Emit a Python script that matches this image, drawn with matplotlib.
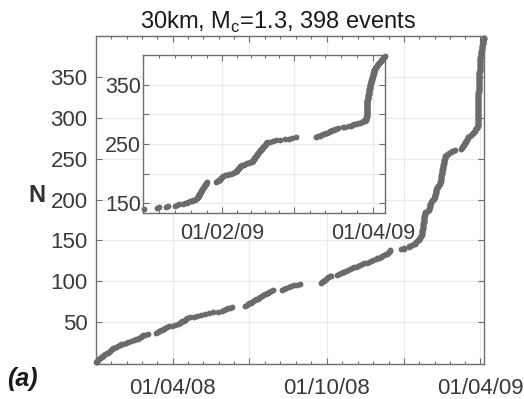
import matplotlib
matplotlib.use("Agg")
import matplotlib.pyplot as plt
import matplotlib.dates as mdates
import numpy as np
from datetime import datetime

plt.rcParams['font.family'] = ['Liberation Sans', 'DejaVu Sans']
plt.rcParams['mathtext.fontset'] = 'custom'
plt.rcParams['mathtext.rm'] = 'Liberation Sans'

# Event times, in days since 01/01/2008
events_2008 = [
    0.2, 0.8, 1.5, 2.4, 3.5, 4.8,
    6.0, 7.3, 8.5, 9.8, 11.2, 12.6,
    14.0, 15.3, 16.5, 17.8, 19.0, 20.4, 21.8,
    23.8, 25.9, 28.0, 30.1, 32.0,
    35.2, 38.5, 41.8, 45.0, 48.0,
    49.7, 51.3, 53.0, 54.6, 56.3, 58.0,
    61.5,
    71.5, 73.2, 75.0, 76.8, 78.5, 80.3, 82.1, 84.0,
    87.2, 90.4, 93.6, 96.8, 100.0,
    101.3, 102.7, 104.0, 105.4, 106.7, 108.0,
    112.0, 116.0, 120.0,
    124.5, 129.2, 134.0, 139.0,
    144.5, 150.0,
    152.2, 154.4, 156.6, 158.8, 161.0,
    177.5, 179.0,
    180.6, 182.2, 183.8, 185.4, 187.0, 188.6, 190.2,
    191.9, 193.6, 195.3, 197.0, 198.7, 200.4, 202.1,
    204.0, 206.0, 208.0, 210.0,
    221.0, 223.5, 226.0, 229.0, 232.0, 235.0, 238.5, 242.0,
    267.0, 268.2, 269.4, 270.6, 271.8, 273.0, 274.2, 275.4,
    277.5, 279.5,
    286.0, 288.3, 290.5, 292.8, 295.0, 297.3, 299.5, 301.8, 304.0,
    306.4, 308.8, 311.2, 313.6, 316.0,
    318.7, 321.4, 324.1, 326.8, 329.5, 332.2,
    334.0, 336.0, 338.0, 340.0, 342.0, 344.0, 345.8, 347.2, 348.2, 348.8, 349.3,
    362.0, 365.5,
]

events_2009 = [
    366.3,
    371.5, 372.2,
    375.0, 375.5,
    378.5, 379.2, 379.9,
    381.5, 382.2,
    383.0, 383.6, 384.2,
    385.0, 385.6, 386.2, 386.8,
    387.0, 387.1, 387.3, 387.4, 387.6, 387.7, 387.8, 388.0, 388.1, 388.3,
    388.4, 388.5, 388.7, 388.8, 389.0, 389.1, 389.2, 389.4, 389.5, 389.7,
    389.8, 389.9, 390.1, 390.2, 390.4, 390.5, 390.6, 390.8,
    394.7,
    395.0, 395.3, 395.6, 395.9, 396.2, 396.4, 396.6, 396.8, 397.0, 397.3,
    398.0, 398.8, 399.6, 400.4, 401.2,
    401.8, 402.1, 402.4, 402.6, 402.8, 403.0, 403.2, 403.4, 403.6, 403.8, 404.0, 404.3,
    404.8, 405.4, 406.0, 406.7, 407.4, 408.0, 408.5,
    408.8, 409.0, 409.2, 409.3, 409.5, 409.6, 409.8, 409.9,
    410.1, 410.2, 410.4, 410.5, 410.7, 410.8,
    411.0, 411.2, 411.4, 411.6, 411.8,
    412.0, 412.2, 412.4, 412.6, 412.8,
    413.0, 413.2, 413.4, 413.6, 413.8,
    414.0, 414.2, 414.4, 414.7,
    415.5, 416.8, 418.0, 419.8, 421.5, 423.0, 424.5, 426.0,
    433.9,
    434.6, 435.2, 435.8, 436.4, 437.0, 437.6, 438.2,
    438.7, 439.2, 439.7, 440.2, 440.7, 441.2, 441.7, 442.2,
    444.3, 445.3,
    446.5, 447.3, 448.0, 448.8, 449.5, 450.2, 451.0, 451.7, 452.3,
    452.9, 453.4,
    453.50, 453.51, 453.52, 453.53, 453.54, 453.55, 453.56, 453.57, 453.58, 453.59,
    453.60, 453.61, 453.62, 453.63, 453.64, 453.65, 453.66, 453.67, 453.68, 453.69,
    453.70, 453.71, 453.72, 453.73, 453.74, 453.75, 453.76, 453.77, 453.78, 453.79,
    453.82, 453.86, 453.90, 453.94, 453.98, 454.02, 454.06, 454.10, 454.14, 454.18,
    454.22, 454.26, 454.30, 454.34, 454.38, 454.42, 454.46, 454.50, 454.54, 454.58,
    454.62, 454.66, 454.70, 454.74, 454.78, 454.82, 454.86, 454.90, 454.94,
    455.00, 455.07, 455.13, 455.20, 455.27, 455.33, 455.40, 455.47, 455.53, 455.60,
    455.67, 455.73, 455.80, 455.87, 455.93, 456.00, 456.07, 456.13, 456.20, 456.27,
    456.33, 456.40, 456.47, 456.53, 456.60, 456.67, 456.73, 456.80,
    457.0, 457.2, 457.35, 457.5, 457.7, 457.85, 458.0, 458.15, 458.3, 458.5, 458.7,
    458.9, 459.1, 459.3, 459.5, 459.7, 459.9, 460.1, 460.3, 460.5, 460.7,
]

title_text = "30km, M$_{\\mathrm{c}}$=1.3, 398 events"
main_xticklabels = {"2008-04-01": "01/04/08", "2008-07-01": "", "2008-10-01": "01/10/08",
                    "2009-01-01": "", "2009-04-01": "01/04/09"}
inset_xticklabels = {"2009-01-01": "", "2009-02-01": "01/02/09", "2009-03-01": "", "2009-04-01": "01/04/09"}
main_yticks = [50, 100, 150, 200, 250, 300, 350]
inset_yticks = [150, 200, 250, 300, 350]
inset_ylabels = ["150", "", "250", "", "350"]

base = mdates.date2num(datetime(2008, 1, 1))
days = np.array(events_2008 + events_2009)
t = base + days
N = np.arange(1, len(days) + 1)

pt_color = '#6b6b6b'
spine_color = '#6e6e6e'
lab_color = '#3a3a3a'
grid_color = '#ebebeb'

fig = plt.figure(figsize=(5.24, 3.99), dpi=100)

def style(ax, major_dates, labels_map, yticks, ylabels, x0, labelsize):
    md = [mdates.date2num(datetime.strptime(d, "%Y-%m-%d")) for d in major_dates]
    ax.set_xticks(md)
    ax.set_xticklabels([labels_map[d] for d in major_dates])
    allmaj = [x0] + md if x0 < md[0] else md
    minors = []
    for a, b in zip(allmaj[:-1], allmaj[1:]):
        for k in range(1, 5):
            minors.append(a + (b - a) * k / 5)
    ax.set_xticks(minors, minor=True)
    ax.set_yticks(yticks)
    ax.set_yticklabels(ylabels)
    ax.grid(True, which='major', color=grid_color, linewidth=0.9)
    ax.set_axisbelow(True)
    for s in ax.spines.values():
        s.set_color(spine_color)
        s.set_linewidth(1.0)
    ax.tick_params(which='both', direction='in', top=True, right=True,
                   colors=spine_color, labelcolor=lab_color, labelsize=labelsize)
    ax.tick_params(which='major', length=4, width=0.8)
    ax.tick_params(which='minor', length=2.5, width=0.8)

# Main axes
ax = fig.add_axes([0.1832, 0.0877, 0.7405, 0.8221])
ax.plot(t, N, 'o', color=pt_color, markersize=4.2, markeredgewidth=0, clip_on=False, zorder=3)
x0 = base
x1 = base + 460.8
ax.set_xlim(x0, x1)
ax.set_ylim(-1, 400)
style(ax, list(main_xticklabels.keys()), main_xticklabels, main_yticks,
      [str(v) for v in main_yticks], x0, 16)
ax.tick_params(axis='x', pad=10)
ax.tick_params(axis='y', pad=6)

# Inset axes
ins = fig.add_axes([0.2735, 0.4654, 0.4612, 0.3968])
ins.set_facecolor('white')
mask = days >= 366
ins.plot(t[mask], N[mask], 'o', color=pt_color, markersize=4.2, markeredgewidth=0, clip_on=False, zorder=3)
ix0 = mdates.date2num(datetime(2009, 1, 1))
ins.set_xlim(ix0, x1)
ins.set_ylim(133, 400)
style(ins, list(inset_xticklabels.keys()), inset_xticklabels, inset_yticks, inset_ylabels, ix0, 15.5)
ins.tick_params(axis='y', pad=1.5)
ins.tick_params(axis='x', pad=7)

fig.text(278 / 524, 1 - 22 / 399, title_text, ha='center', va='center', fontsize=17, color='#1a1a1a')
fig.text(37 / 524, 1 - 195 / 399, "N", ha='center', va='center', fontsize=17, fontweight='bold', color='#333333')
fig.text(22 / 524, 1 - 379 / 399, "(a)", ha='center', va='center', fontsize=18, fontstyle='italic',
         fontweight='bold', color='#1a1a1a')

fig.savefig("out.png", dpi=100)
